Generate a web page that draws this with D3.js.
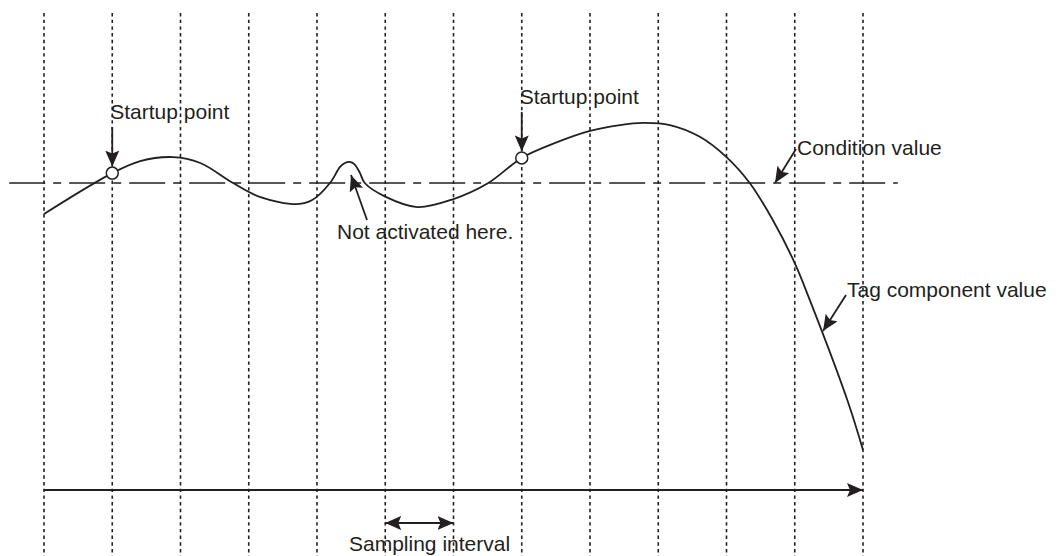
<!DOCTYPE html>
<html>
<head>
<meta charset="utf-8">
<script src="https://cdn.jsdelivr.net/npm/d3@7"></script>
<style>
  body { margin: 0; background: #fff; }
  text { font-family: "Liberation Sans", Arial, sans-serif; font-size: 21px; fill: #231f20; }
</style>
</head>
<body>
<div id="chart"></div>
<script>
// sampling instants (grid lines), in sampling intervals
const samples = d3.range(0, 13);
// tag component value, t in sampling intervals, v relative to condition value = 100
const tagT = [0, 1, 1.41, 1.89, 2.29, 2.77, 3.16, 3.71, 3.93, 4.19, 4.34, 4.41, 4.48, 4.55, 4.63, 4.70, 5.0, 5.47, 5.99, 6.51, 7, 7.49, 8, 8.44, 8.78, 9.17, 9.61, 10, 10.34, 10.67, 11, 11.22, 11.77, 12];
const tagV = [88.4, 103.7, 108.2, 109.7, 107.5, 100, 94.8, 92.1, 93.6, 100, 106.1, 107.5, 107.9, 107.0, 103.7, 100, 94.9, 91, 93.9, 100, 109.4, 115, 119.5, 121.7, 122.5, 121.7, 117.3, 109.7, 100, 86.5, 70, 56.2, 18.7, 0];
const conditionValue = 100;
// samples where the condition becomes true
const startupT = [1, 7];
const labels = ["Startup point", "Not activated here.", "Condition value", "Tag component value", "Sampling interval"];

const W = 1060, H = 556;
const x = d3.scaleLinear().domain([0, 12]).range([44, 863]);
const y = d3.scaleLinear().domain([0, 100]).range([450, 183]);
const ink = "#231f20";

const svg = d3.select("#chart").append("svg").attr("width", W).attr("height", H);

// arrow heads
const defs = svg.append("defs");
defs.append("marker")
  .attr("id", "head")
  .attr("markerUnits", "userSpaceOnUse")
  .attr("viewBox", "0 0 16 14")
  .attr("markerWidth", 16).attr("markerHeight", 14)
  .attr("refX", 16).attr("refY", 7)
  .attr("orient", "auto-start-reverse")
  .append("path").attr("d", "M0,0 L16,7 L0,14 L3,7 Z").attr("fill", ink);

// sampling grid lines
svg.append("g").selectAll("line").data(samples).join("line")
  .attr("x1", d => x(d)).attr("x2", d => x(d))
  .attr("y1", 13).attr("y2", H)
  .attr("stroke", ink).attr("stroke-width", 1.6)
  .attr("stroke-dasharray", "3.4,3.3");

// condition value line
svg.append("line")
  .attr("x1", x(-0.51)).attr("x2", x(12.51))
  .attr("y1", y(conditionValue)).attr("y2", y(conditionValue))
  .attr("stroke", ink).attr("stroke-width", 1.5)
  .attr("stroke-dasharray", "36,8,8,8");

// tag component value curve
const tag = tagT.map((t, i) => [t, tagV[i]]);
svg.append("path")
  .datum(tag)
  .attr("fill", "none").attr("stroke", ink).attr("stroke-width", 1.8)
  .attr("d", d3.line().x(d => x(d[0])).y(d => y(d[1])).curve(d3.curveCatmullRom.alpha(0.5)));

// startup points
const startups = startupT.map(t => [t, tagV[tagT.indexOf(t)]]);
svg.append("g").selectAll("circle").data(startups).join("circle")
  .attr("cx", d => x(d[0])).attr("cy", d => y(d[1])).attr("r", 6)
  .attr("fill", "#fff").attr("stroke", ink).attr("stroke-width", 1.5);

function arrow(x1, y1, x2, y2, both) {
  const l = svg.append("line")
    .attr("x1", x1).attr("y1", y1).attr("x2", x2).attr("y2", y2)
    .attr("stroke", ink).attr("stroke-width", 1.8)
    .attr("marker-end", "url(#head)");
  if (both) l.attr("marker-start", "url(#head)");
}
function label(txt, x0, y0) {
  svg.append("text").attr("x", x0).attr("y", y0).text(txt);
}

startups.forEach(d => {
  const px = x(d[0]), py = y(d[1]);
  label(labels[0], px - 2, py - 54);
  arrow(px, py - 46, px, py - 6.5);
});

label(labels[1], 337, 239);
arrow(367, 220, 351, 175);

label(labels[2], 797, 155);
arrow(796, 149, 775, 183);

label(labels[3], 847, 297);
arrow(846, 295, 823, 331);

// time axis arrow
arrow(x(0), 490, x(12), 490);

// sampling interval
arrow(x(5), 523, x(6), 523, true);
label(labels[4], 349, 551);
</script>
</body>
</html>
